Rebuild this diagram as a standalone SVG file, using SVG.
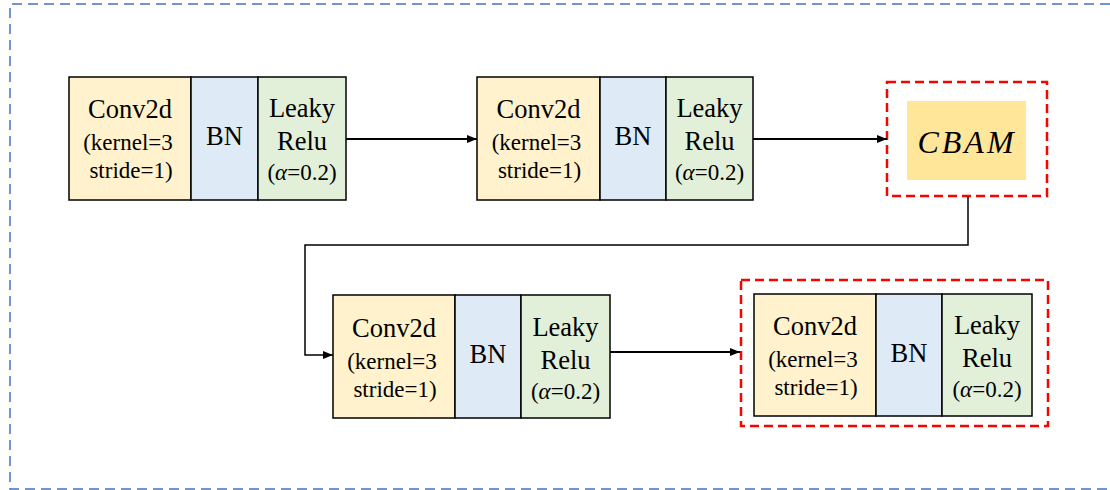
<svg xmlns="http://www.w3.org/2000/svg" width="1110" height="490" viewBox="0 0 1110 490" font-family="Liberation Serif, DejaVu Serif, serif">
<style>
.conv{fill:#FFF2CC;stroke:#000;stroke-width:1.5}
.bn{fill:#DEEBF7;stroke:#000;stroke-width:1.5}
.lr{fill:#E2F0D9;stroke:#000;stroke-width:1.5}
text{fill:#000;text-anchor:middle}
.big{font-size:26.5px}
.sm{font-size:23px}
.red{fill:none;stroke:#FF0000;stroke-width:2.5;stroke-dasharray:9,5}
.conn{fill:none;stroke:#000}
</style>
<defs>
<marker id="ah" markerWidth="10" markerHeight="8" refX="10" refY="4" orient="auto" markerUnits="userSpaceOnUse">
<path d="M0,0 L10,4 L0,8 Z" fill="#000"/>
</marker>
</defs>
<path d="M1110,4 H10 V489 H1110" fill="none" stroke="#4472C4" stroke-width="1.5" stroke-dasharray="10,6"/>

<g id="block1">
<rect class="conv" x="69" y="77" width="122" height="123"/>
<rect class="bn" x="191" y="77" width="67" height="123"/>
<rect class="lr" x="258" y="77" width="88" height="123"/>
<text class="big" x="130" y="118">Conv2d</text>
<text class="sm" x="128" y="150">(kernel=3</text>
<text class="sm" x="131" y="178">stride=1)</text>
<text class="big" x="224.5" y="145">BN</text>
<text class="big" x="302" y="117">Leaky</text>
<text class="big" x="302" y="150">Relu</text>
<text class="sm" x="302" y="180">(<tspan font-style="italic">α</tspan>=0.2)</text>
</g>

<g id="block2">
<rect class="conv" x="477" y="77" width="123" height="123"/>
<rect class="bn" x="600" y="77" width="66" height="123"/>
<rect class="lr" x="666" y="77" width="87" height="123"/>
<text class="big" x="538.5" y="118">Conv2d</text>
<text class="sm" x="536.5" y="150">(kernel=3</text>
<text class="sm" x="539.5" y="178">stride=1)</text>
<text class="big" x="633" y="145">BN</text>
<text class="big" x="709.5" y="117">Leaky</text>
<text class="big" x="709.5" y="150">Relu</text>
<text class="sm" x="709.5" y="180">(<tspan font-style="italic">α</tspan>=0.2)</text>
</g>

<g id="cbam">
<rect class="red" x="887" y="82" width="160" height="114"/>
<rect x="907" y="101" width="119" height="79" fill="#FFE699"/>
<text x="967" y="153" font-size="32" font-style="italic" letter-spacing="3">CBAM</text>
</g>

<g id="block3">
<rect class="conv" x="333" y="295" width="122" height="123"/>
<rect class="bn" x="455" y="295" width="66" height="123"/>
<rect class="lr" x="521" y="295" width="89" height="123"/>
<text class="big" x="394" y="337">Conv2d</text>
<text class="sm" x="392" y="369">(kernel=3</text>
<text class="sm" x="395" y="397">stride=1)</text>
<text class="big" x="488" y="363">BN</text>
<text class="big" x="565.5" y="336">Leaky</text>
<text class="big" x="565.5" y="369">Relu</text>
<text class="sm" x="565.5" y="399">(<tspan font-style="italic">α</tspan>=0.2)</text>
</g>

<g id="block4">
<rect class="red" x="741" y="280" width="307" height="146"/>
<rect class="conv" x="754" y="294" width="122" height="122"/>
<rect class="bn" x="876" y="294" width="66" height="122"/>
<rect class="lr" x="942" y="294" width="90" height="122"/>
<text class="big" x="815" y="335">Conv2d</text>
<text class="sm" x="813" y="367">(kernel=3</text>
<text class="sm" x="816" y="395">stride=1)</text>
<text class="big" x="909" y="362">BN</text>
<text class="big" x="987" y="334">Leaky</text>
<text class="big" x="987" y="367">Relu</text>
<text class="sm" x="987" y="397">(<tspan font-style="italic">α</tspan>=0.2)</text>
</g>

<g id="connectors">
<line class="conn" x1="346" y1="139" x2="477" y2="139" stroke-width="2" marker-end="url(#ah)"/>
<line class="conn" x1="753" y1="139" x2="887" y2="139" stroke-width="2" marker-end="url(#ah)"/>
<path class="conn" d="M968,197 V245 H305 V355 H333" stroke-width="1.5" marker-end="url(#ah)"/>
<line class="conn" x1="610" y1="352" x2="740" y2="352" stroke-width="2" marker-end="url(#ah)"/>
</g>
</svg>
